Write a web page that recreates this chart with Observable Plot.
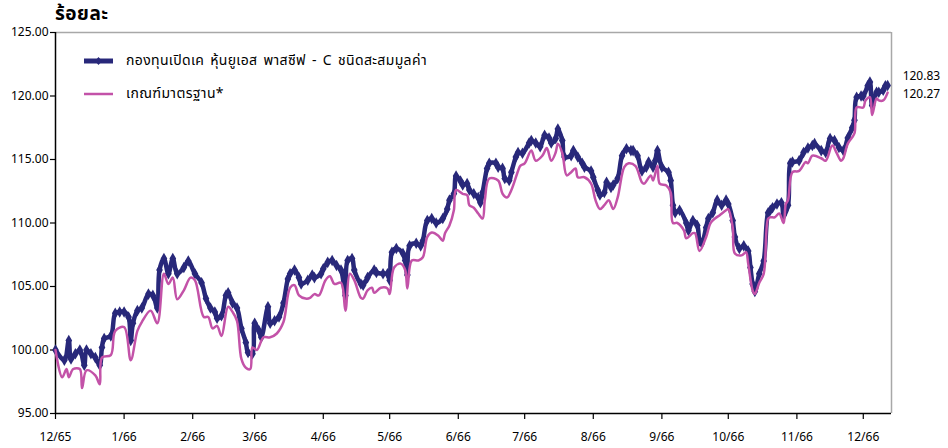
<!DOCTYPE html>
<html><head><meta charset="utf-8">
<script src="https://cdn.jsdelivr.net/npm/d3@7"></script>
<script src="https://cdn.jsdelivr.net/npm/@observablehq/plot@0.6"></script>
<style>
body{margin:0;background:#fff;font-family:"Noto Sans Thai","Noto Sans",sans-serif;}
#wrap{position:relative;width:948px;height:448px;overflow:hidden;}
#title{height:24px;padding-left:55px;font-size:19px;font-weight:bold;line-height:30px;letter-spacing:0.5px;color:#000;}
.leg{position:absolute;left:83px;display:flex;align-items:center;font-size:14px;letter-spacing:0.35px;word-spacing:2px;color:#000;}
.leg svg{margin-right:12px;}
</style></head>
<body>
<div id="wrap">
<div id="title">ร้อยละ</div>
<div id="chart"></div>
<div class="leg" style="top:50px"><svg width="31" height="10"><line x1="1" y1="5" x2="30" y2="5" stroke="#28287a" stroke-width="5"/><path d="M15.5,1 L19,5 L15.5,9 L12,5Z" fill="#28287a"/></svg><span id="l1"></span></div>
<div class="leg" style="top:83px"><svg width="31" height="10"><line x1="1" y1="5" x2="30" y2="5" stroke="#c352a8" stroke-width="2.5"/></svg><span id="l2"></span></div>
</div>
<script>
const seriesNames = ["กองทุนเปิดเค หุ้นยูเอส พาสซีฟ - C ชนิดสะสมมูลค่า", "เกณฑ์มาตรฐาน*"];
const tickDates = ["2022-12-01","2023-01-01","2023-02-01","2023-03-01","2023-04-01","2023-05-01","2023-06-01","2023-07-01","2023-08-01","2023-09-01","2023-10-01","2023-11-01","2023-12-01"];
const tickLabels = ["12/65","1/66","2/66","3/66","4/66","5/66","6/66","7/66","8/66","9/66","10/66","11/66","12/66"];
const yTicks = [95,100,105,110,115,120,125];

const fundDates = ["2022-12-01","2022-12-05","2022-12-07","2022-12-08","2022-12-10","2022-12-12","2022-12-14","2022-12-15","2022-12-17","2022-12-19","2022-12-21","2022-12-22","2022-12-23","2022-12-26","2022-12-28","2022-12-30",
"2023-01-01","2023-01-03","2023-01-04","2023-01-05","2023-01-07","2023-01-09","2023-01-12","2023-01-14","2023-01-16","2023-01-17","2023-01-19","2023-01-21","2023-01-23","2023-01-25","2023-01-28","2023-01-30",
"2023-02-02","2023-02-05","2023-02-07","2023-02-09","2023-02-11","2023-02-12","2023-02-14","2023-02-16","2023-02-17","2023-02-19","2023-02-21","2023-02-23","2023-02-25","2023-02-26","2023-02-28",
"2023-03-01","2023-03-03","2023-03-04","2023-03-07","2023-03-08","2023-03-10","2023-03-12","2023-03-14","2023-03-16","2023-03-17","2023-03-19","2023-03-21","2023-03-22","2023-03-25","2023-03-27","2023-03-28","2023-03-31",
"2023-04-01","2023-04-03","2023-04-05","2023-04-07","2023-04-09","2023-04-11","2023-04-12","2023-04-14","2023-04-15","2023-04-18","2023-04-19","2023-04-21","2023-04-24","2023-04-25","2023-04-28","2023-04-30",
"2023-05-01","2023-05-02","2023-05-04","2023-05-07","2023-05-08","2023-05-09","2023-05-10","2023-05-13","2023-05-15","2023-05-16","2023-05-18","2023-05-20","2023-05-22","2023-05-25","2023-05-27","2023-05-28","2023-05-30","2023-05-31",
"2023-06-02","2023-06-03","2023-06-05","2023-06-06","2023-06-08","2023-06-10","2023-06-11","2023-06-12","2023-06-14","2023-06-15","2023-06-18","2023-06-19","2023-06-21","2023-06-22","2023-06-24","2023-06-25","2023-06-27","2023-06-28","2023-06-30",
"2023-07-03","2023-07-04","2023-07-06","2023-07-08","2023-07-10","2023-07-12","2023-07-13","2023-07-15","2023-07-16","2023-07-18","2023-07-19","2023-07-22","2023-07-23","2023-07-25","2023-07-27","2023-07-28","2023-07-31",
"2023-08-01","2023-08-03","2023-08-04","2023-08-06","2023-08-07","2023-08-09","2023-08-10","2023-08-12","2023-08-14","2023-08-16","2023-08-18","2023-08-19","2023-08-21","2023-08-23","2023-08-25","2023-08-26","2023-08-28","2023-08-29","2023-08-30",
"2023-09-01","2023-09-04","2023-09-05","2023-09-06","2023-09-07","2023-09-09","2023-09-12","2023-09-13","2023-09-15","2023-09-17","2023-09-18","2023-09-19","2023-09-21","2023-09-22","2023-09-24","2023-09-26","2023-09-28","2023-09-30",
"2023-10-01","2023-10-03","2023-10-04","2023-10-06","2023-10-08","2023-10-10","2023-10-11","2023-10-12","2023-10-13","2023-10-15","2023-10-17","2023-10-19","2023-10-20","2023-10-21","2023-10-23","2023-10-25","2023-10-26","2023-10-28","2023-10-29","2023-10-30",
"2023-11-02","2023-11-04","2023-11-06","2023-11-08","2023-11-09","2023-11-12","2023-11-14","2023-11-16","2023-11-18","2023-11-20","2023-11-22","2023-11-24","2023-11-26","2023-11-27","2023-11-28","2023-11-30",
"2023-12-01","2023-12-03","2023-12-04","2023-12-05","2023-12-07","2023-12-08","2023-12-10","2023-12-11","2023-12-12"];
const fundValues = [100.0,99.2,100.75,99.3,99.7,100.0,98.8,100.0,99.7,99.4,98.8,100.2,100.9,101.1,102.9,103.0,
103.0,102.6,100.75,102.1,103.1,103.3,104.4,104.3,103.3,106.3,107.2,106.0,107.2,106.0,106.5,107.0,
106.0,105.3,104.05,103.3,103.0,102.5,102.7,104.3,104.5,103.7,103.3,101.7,100.6,99.8,99.7,
102.1,101.5,101.0,103.4,102.1,102.3,102.6,103.7,105.6,106.0,106.3,105.7,105.2,105.5,105.9,105.7,106.0,
106.4,106.9,107.05,106.65,106.3,104.3,107.05,107.2,106.3,105.2,105.1,105.7,106.3,106.1,106.0,106.0,
105.5,107.7,108.0,107.6,107.05,105.9,108.2,108.4,108.2,108.6,110.2,110.35,110.0,110.35,111.1,111.8,112.3,113.7,
113.3,113.0,113.1,112.6,112.3,112.0,111.6,112.4,114.3,114.7,114.7,114.4,114.3,113.5,113.35,114.0,115.2,115.55,115.5,
116.3,116.5,116.3,116.0,116.9,116.7,116.3,116.65,117.4,116.5,115.2,115.3,115.7,115.2,114.7,114.4,114.1,
113.6,112.6,112.2,112.4,113.2,112.8,113.0,113.5,115.3,115.85,115.7,115.7,115.3,114.1,114.4,114.8,114.4,114.9,115.7,
114.4,114.0,113.35,111.4,110.8,111.0,110.0,109.4,110.2,109.8,108.6,108.4,109.65,110.35,110.8,111.8,111.4,111.8,
111.5,110.2,108.9,108.0,108.2,107.8,106.5,105.2,104.6,106.0,107.0,110.8,111.0,111.2,111.5,111.6,110.6,111.4,114.7,114.8,
114.9,115.55,115.9,116.1,116.25,115.7,115.55,116.65,116.5,115.95,115.7,116.7,117.5,118.1,119.9,120.0,
120.0,120.8,121.1,119.25,120.3,120.3,120.45,120.8,120.83];

const benchDates = ["2022-12-01","2022-12-04","2022-12-06","2022-12-07","2022-12-09","2022-12-12","2022-12-13","2022-12-15","2022-12-19","2022-12-21","2022-12-22","2022-12-26","2022-12-28",
"2023-01-01","2023-01-04","2023-01-07","2023-01-09","2023-01-13","2023-01-16","2023-01-19","2023-01-21","2023-01-23","2023-01-25","2023-01-28","2023-01-31",
"2023-02-02","2023-02-06","2023-02-08","2023-02-10","2023-02-12","2023-02-14","2023-02-17","2023-02-19","2023-02-21","2023-02-23","2023-02-25","2023-02-27","2023-02-28",
"2023-03-02","2023-03-05","2023-03-08","2023-03-11","2023-03-14","2023-03-17","2023-03-19","2023-03-21","2023-03-24","2023-03-26","2023-03-28","2023-03-30",
"2023-04-02","2023-04-04","2023-04-06","2023-04-09","2023-04-11","2023-04-13","2023-04-15","2023-04-18","2023-04-19","2023-04-21","2023-04-23","2023-04-24","2023-04-27","2023-04-30",
"2023-05-01","2023-05-03","2023-05-06","2023-05-08","2023-05-09","2023-05-11","2023-05-14","2023-05-16","2023-05-18","2023-05-20","2023-05-23","2023-05-25","2023-05-26","2023-05-28","2023-05-30","2023-05-31",
"2023-06-03","2023-06-05","2023-06-06","2023-06-08","2023-06-10","2023-06-12","2023-06-13","2023-06-15","2023-06-19","2023-06-21","2023-06-23","2023-06-25","2023-06-28","2023-06-29",
"2023-07-01","2023-07-04","2023-07-06","2023-07-09","2023-07-11","2023-07-13","2023-07-15","2023-07-16","2023-07-18","2023-07-20","2023-07-22","2023-07-24","2023-07-25","2023-07-28","2023-07-31",
"2023-08-02","2023-08-04","2023-08-06","2023-08-08","2023-08-10","2023-08-12","2023-08-15","2023-08-17","2023-08-20","2023-08-23","2023-08-24","2023-08-27","2023-08-28","2023-08-30","2023-08-31",
"2023-09-03","2023-09-05","2023-09-06","2023-09-08","2023-09-11","2023-09-12","2023-09-15","2023-09-16","2023-09-18","2023-09-21","2023-09-23","2023-09-25","2023-09-27","2023-09-30",
"2023-10-01","2023-10-03","2023-10-04","2023-10-07","2023-10-09","2023-10-10","2023-10-12","2023-10-13","2023-10-15","2023-10-17","2023-10-19","2023-10-20","2023-10-22","2023-10-24","2023-10-26","2023-10-27","2023-10-28","2023-10-30",
"2023-11-02","2023-11-05","2023-11-06","2023-11-08","2023-11-12","2023-11-14","2023-11-17","2023-11-19","2023-11-21","2023-11-22","2023-11-24","2023-11-27","2023-11-28",
"2023-12-01","2023-12-02","2023-12-04","2023-12-05","2023-12-07","2023-12-08","2023-12-10","2023-12-12"];
const benchValues = [100.0,97.85,98.5,97.85,98.5,98.5,97.0,98.4,98.0,97.3,99.4,99.6,101.5,
101.8,99.2,101.5,102.2,103.1,102.1,106.0,105.2,105.7,104.0,104.7,105.7,
105.5,102.6,102.6,101.7,101.9,101.1,103.4,103.0,102.3,99.3,98.6,98.5,100.2,
100.0,101.0,101.0,101.3,102.2,104.9,105.1,104.3,104.05,104.1,104.4,104.3,
105.5,105.8,105.2,105.3,103.1,106.0,105.5,104.1,104.05,104.7,104.9,104.5,104.9,104.85,
104.4,106.5,106.8,106.3,104.85,107.05,107.05,107.3,108.9,109.25,109.0,108.6,109.2,109.8,111.0,112.6,
112.3,112.2,111.4,111.2,110.75,110.35,111.8,113.5,113.35,112.3,112.0,112.6,114.1,114.5,
114.7,115.7,114.9,115.3,115.9,114.9,115.55,116.25,115.5,113.75,114.0,114.3,113.6,113.6,113.1,
111.8,111.1,111.4,111.8,111.1,112.0,114.4,114.7,114.5,113.2,113.1,113.75,113.35,114.5,113.1,
112.95,112.4,110.0,110.0,109.4,108.8,109.2,109.2,107.8,108.9,110.0,110.35,110.6,111.0,
111.1,109.65,107.6,107.45,107.7,106.8,104.7,104.4,105.3,106.0,110.35,110.45,110.45,110.75,110.0,111.5,111.8,114.0,
114.1,114.8,114.7,115.3,115.1,114.9,116.1,115.5,114.9,115.1,116.25,117.05,119.1,
119.1,119.65,119.9,118.5,119.8,119.65,119.65,120.27];

const navy = "#28287a", pink = "#c352a8";
const fontFam = '"Noto Sans","Noto Sans Thai",sans-serif';
document.getElementById("l1").textContent = seriesNames[0];
document.getElementById("l2").textContent = seriesNames[1];

const fund = fundDates.map((d,i)=>({date:new Date(d), value:fundValues[i]}));
const bench = benchDates.map((d,i)=>({date:new Date(d), value:benchValues[i]}));
const ticks = tickDates.map(d=>new Date(d));
const xStart = new Date("2022-12-01"), xEnd = new Date("2023-12-13T18:00:00Z");
const fmt = d3.format(".2f");

const chart = Plot.plot({
  width:948, height:424, marginTop:8, marginBottom:35, marginLeft:55, marginRight:57,
  style:{fontFamily:fontFam, fontSize:"12px", color:"#000", background:"#fff", overflow:"visible"},
  x:{type:"utc", domain:[xStart,xEnd]},
  y:{domain:[95,125]},
  marks:[
    Plot.ruleY([125],{stroke:"#a8a8a8", strokeWidth:1.5}),
    Plot.ruleX([xEnd],{stroke:"#a8a8a8", strokeWidth:1.5}),
    Plot.axisY({ticks:yTicks, tickFormat:fmt, tickSize:5, tickPadding:2, label:null, strokeWidth:1.2}),
    Plot.axisX({ticks:ticks, tickFormat:d=>tickLabels[ticks.findIndex(t=>+t===+d)], tickSize:6, tickPadding:13, label:null, strokeWidth:1.2}),
    Plot.ruleX([xStart],{stroke:"#000", strokeWidth:1.5}),
    Plot.ruleY([95],{stroke:"#000", strokeWidth:1.5}),
    Plot.line(fund,{x:"date", y:"value", stroke:navy, strokeWidth:4.5, curve:"catmull-rom"}),
    Plot.dot(fund,{x:"date", y:"value", symbol:"diamond", r:3.5, fill:navy}),
    Plot.line(bench,{x:"date", y:"value", stroke:pink, strokeWidth:2.5, curve:"catmull-rom"}),
    Plot.text([fund[fund.length-1]],{x:"date", y:"value", text:d=>fmt(d.value), dx:15, dy:-9, textAnchor:"start", fontSize:12}),
    Plot.text([bench[bench.length-1]],{x:"date", y:"value", text:d=>fmt(d.value), dx:15, dy:2, textAnchor:"start", fontSize:12})
  ]
});
document.getElementById("chart").appendChild(chart);
</script>
</body></html>
